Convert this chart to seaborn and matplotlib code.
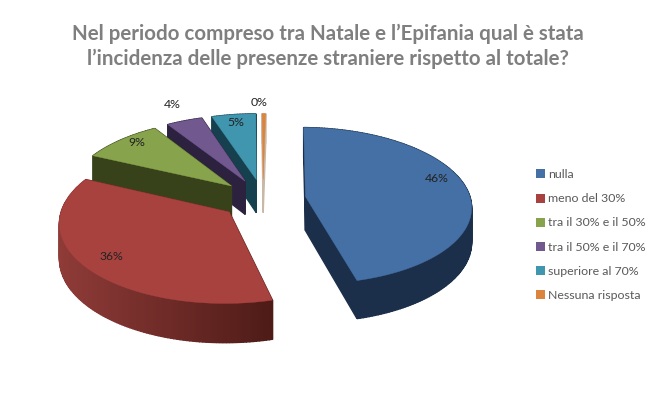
import numpy as np
import matplotlib
matplotlib.use("Agg")
import matplotlib.pyplot as plt
from matplotlib.patches import Patch
import seaborn as sns

title = "Nel periodo compreso tra Natale e l’Epifania qual è stata\nl’incidenza delle presenze straniere rispetto al totale?"
categories = ["nulla", "meno del 30%", "tra il 30% e il 50%", "tra il 50% e il 70%", "superiore al 70%", "Nessuna risposta"]
shares = [45.7, 36.0, 9.0, 4.0, 4.9, 0.4]

top_colors = ["#4470A5", "#A8423F", "#87A44C", "#71588F", "#4096AE", "#DB843D"]
wall_left = ["#1B2F4A", "#8F3B38", "#38421A", "#2C2240", "#17404E", "#C9B8A8"]
wall_right = ["#1B2F4A", "#4E1B17", "#38421A", "#2C2240", "#17404E", "#C9B8A8"]

sns.set_theme(style="white")
plt.rcParams["font.family"] = ["Lato", "DejaVu Sans"]

# scene geometry, all in pixels of the output
CX, CY = 263, 199
RADIUS, SQUASH, PERSP = 165, 0.47, 0.115
EXPLODE, DEPTH = 0.26, 34
START = 1


def project(x, y):
    s = 1 / (1 - PERSP * y)
    return CX + RADIUS * x * s, CY + RADIUS * SQUASH * y * s, s


def slice_outline(start, stop, explode):
    mid = np.radians((start + stop) / 2)
    ox, oy = explode * np.sin(mid), -explode * np.cos(mid)
    t = np.radians(np.linspace(start, stop, max(int(stop - start), 2) + 1))
    xs = np.r_[ox, ox + np.sin(t)]
    ys = np.r_[oy, oy - np.cos(t)]
    return project(xs, ys)


def draw_slice(ax, start, stop, top, left, right):
    px, py, s = slice_outline(start, stop, EXPLODE)
    low = py + DEPTH * s
    c0, c1 = np.array(matplotlib.colors.to_rgb(left)), np.array(matplotlib.colors.to_rgb(right))
    n = len(px)
    span = max(px.max() - px.min(), 1)
    for i in range(n):
        j = (i + 1) % n
        mix = ((px[i] + px[j]) / 2 - px.min()) / span
        col = c0 + (c1 - c0) * mix
        ax.fill([px[i], px[j], px[j], px[i]], [py[i], py[j], low[j], low[i]],
                color=col, lw=1.0, zorder=1)
    ax.fill(px, py, color=top, lw=0.3, zorder=1)


fig = plt.figure(figsize=(6.55, 4.05), dpi=100)
ax = fig.add_axes([0, 0, 1, 1])
ax.set_xlim(0, 655)
ax.set_ylim(405, 0)
ax.axis("off")

edges = START + np.r_[0, np.cumsum(shares)] * 360 / sum(shares)

# back slices first so the red one sits over the green wall
for i in [5, 4, 3, 2, 1, 0]:
    draw_slice(ax, edges[i], edges[i + 1], top_colors[i], wall_left[i], wall_right[i])

label_pos = [(437, 178), (111, 257), (137, 143), (172, 104), (236, 122), (259, 102)]
for share, (lx, ly) in zip(shares, label_pos):
    ax.text(lx, ly, f"{round(share)}%", ha="center", va="center", fontsize=8.8, color="#222222")

ax.text(328, 46, title, ha="center", va="center", fontsize=14.8, fontweight="bold",
        color="#7F7F7F", linespacing=1.28)

handles = [Patch(facecolor=c, edgecolor="none") for c in top_colors]
ax.legend(handles, categories, loc="center left", bbox_to_anchor=(536 / 655, 1 - 235 / 405),
          frameon=False, fontsize=8.9, labelcolor="#595959", handlelength=0.75, handleheight=0.75,
          handletextpad=0.2, labelspacing=1.06, borderpad=0, borderaxespad=0)

fig.savefig("out.png", dpi=100)
